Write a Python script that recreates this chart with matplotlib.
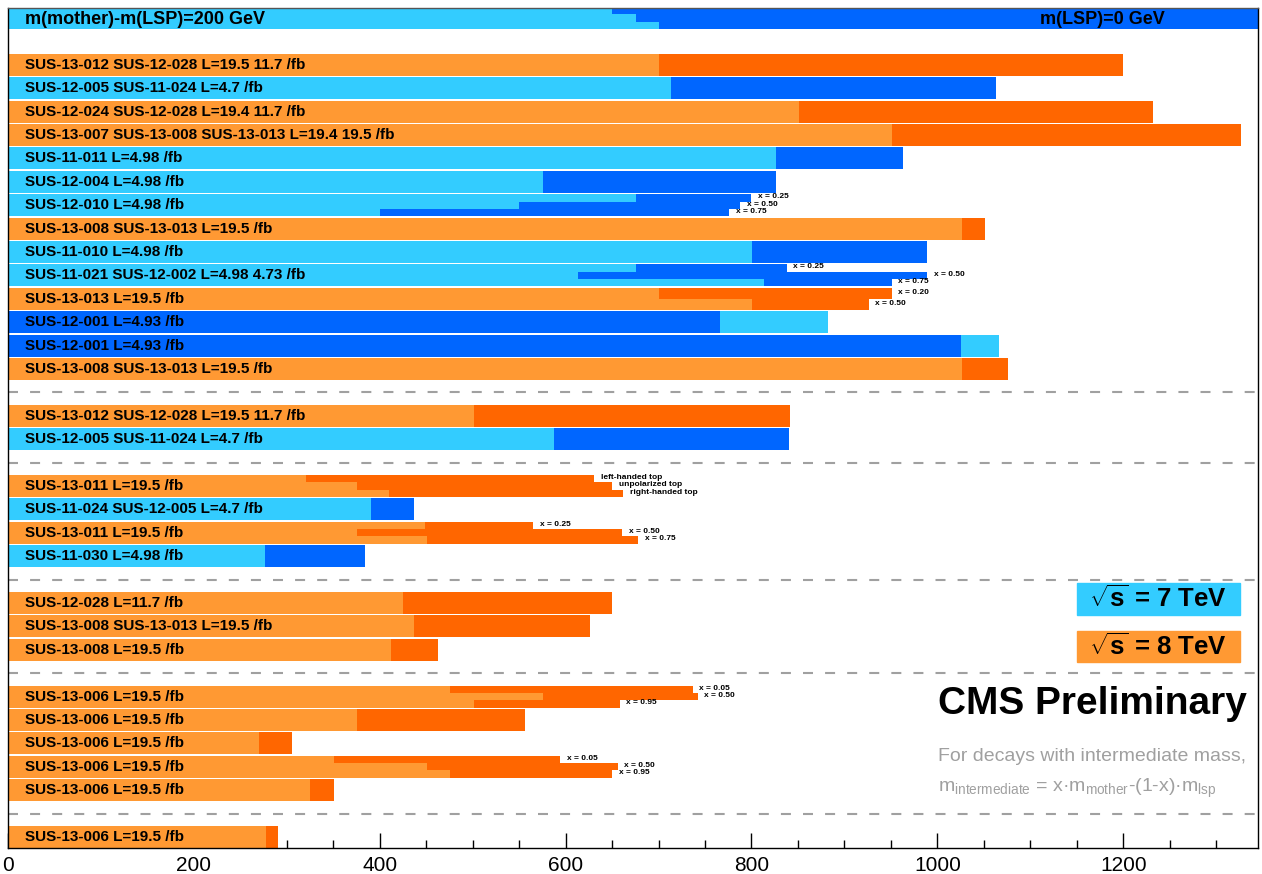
import matplotlib
matplotlib.use("Agg")
import matplotlib.pyplot as plt
from matplotlib.patches import Rectangle

plt.rcParams['font.family'] = ['Liberation Sans', 'DejaVu Sans']
plt.rcParams['mathtext.fontset'] = 'custom'
plt.rcParams['mathtext.rm'] = 'Liberation Sans'
plt.rcParams['mathtext.bf'] = 'Liberation Sans:bold'

# colours: light = m(mother)-m(LSP)=200 GeV, dark = m(LSP)=0 GeV
LIGHT = {7: '#33ccff', 8: '#ff9933'}
DARK = {7: '#0066ff', 8: '#ff6600'}

# header band (legend for light / dark shades)
header_light = [650, 676, 701]

# groups of rows: (label, sqrt(s), [(m at dm=200, m at LSP=0), ...], sub labels)
group1 = [
    ("SUS-13-012 SUS-12-028 L=19.5 11.7 /fb", 8, [(700, 1200)], []),
    ("SUS-12-005 SUS-11-024 L=4.7 /fb", 7, [(713, 1063)], []),
    ("SUS-12-024 SUS-12-028 L=19.4 11.7 /fb", 8, [(851, 1232)], []),
    ("SUS-13-007 SUS-13-008 SUS-13-013 L=19.4 19.5 /fb", 8, [(951, 1327)], []),
    ("SUS-11-011 L=4.98 /fb", 7, [(826, 963)], []),
    ("SUS-12-004 L=4.98 /fb", 7, [(576, 826)], []),
    ("SUS-12-010 L=4.98 /fb", 7, [(676, 800), (550, 788), (400, 776)],
     ["x = 0.25", "x = 0.50", "x = 0.75"]),
    ("SUS-13-008 SUS-13-013 L=19.5 /fb", 8, [(1026, 1051)], []),
    ("SUS-11-010 L=4.98 /fb", 7, [(801, 989)], []),
    ("SUS-11-021 SUS-12-002 L=4.98 4.73 /fb", 7, [(676, 838), (613, 989), (813, 951)],
     ["x = 0.25", "x = 0.50", "x = 0.75"]),
    ("SUS-13-013 L=19.5 /fb", 8, [(701, 951), (801, 926)], ["x = 0.20", "x = 0.50"]),
    ("SUS-12-001 L=4.93 /fb", 7, [(882, 766)], []),
    ("SUS-12-001 L=4.93 /fb", 7, [(1066, 1025)], []),
    ("SUS-13-008 SUS-13-013 L=19.5 /fb", 8, [(1026, 1076)], []),
]
group2 = [
    ("SUS-13-012 SUS-12-028 L=19.5 11.7 /fb", 8, [(501, 841)], []),
    ("SUS-12-005 SUS-11-024 L=4.7 /fb", 7, [(588, 840)], []),
]
group3 = [
    ("SUS-13-011 L=19.5 /fb", 8, [(321, 631), (376, 650), (410, 662)],
     ["left-handed top", "unpolarized top", "right-handed top"]),
    ("SUS-11-024 SUS-12-005 L=4.7 /fb", 7, [(391, 437)], []),
    ("SUS-13-011 L=19.5 /fb", 8, [(449, 565), (376, 661), (451, 678)],
     ["x = 0.25", "x = 0.50", "x = 0.75"]),
    ("SUS-11-030 L=4.98 /fb", 7, [(277, 384)], []),
]
group4 = [
    ("SUS-12-028 L=11.7 /fb", 8, [(425, 650)], []),
    ("SUS-13-008 SUS-13-013 L=19.5 /fb", 8, [(437, 626)], []),
    ("SUS-13-008 L=19.5 /fb", 8, [(412, 463)], []),
]
group5 = [
    ("SUS-13-006 L=19.5 /fb", 8, [(476, 737), (576, 742), (501, 658)],
     ["x = 0.05", "x = 0.50", "x = 0.95"]),
    ("SUS-13-006 L=19.5 /fb", 8, [(376, 556)], []),
    ("SUS-13-006 L=19.5 /fb", 8, [(270, 306)], []),
    ("SUS-13-006 L=19.5 /fb", 8, [(351, 594), (451, 656), (476, 650)],
     ["x = 0.05", "x = 0.50", "x = 0.95"]),
    ("SUS-13-006 L=19.5 /fb", 8, [(325, 351)], []),
]
group6 = [
    ("SUS-13-006 L=19.5 /fb", 8, [(278, 290)], []),
]
groups = [group1, group2, group3, group4, group5, group6]

xticks = [0, 200, 400, 600, 800, 1000, 1200]
XMAX = 1345

fig = plt.figure(figsize=(12.62, 8.74), dpi=100)
ax = fig.add_axes([8 / 1262, 26 / 874, 1250 / 1262, 840 / 874])

H = 0.94  # bar thickness in row units

# header band
ax.barh(0, XMAX, height=0.94, color=DARK[7], zorder=1)
n = len(header_light)
for i, v in enumerate(header_light):
    yc = -0.47 + (i + 0.5) * 0.94 / n
    ax.barh(yc, v, height=0.94 / n, color=LIGHT[7], zorder=2)
ax.text(18, 0.05, "m(mother)-m(LSP)=200 GeV", fontsize=13, fontweight='bold', va='center', zorder=5)
ax.text(1245, 0.05, "m(LSP)=0 GeV", fontsize=13, fontweight='bold', va='center', ha='right', zorder=5)

slot = 2
sep_lines = []
for gi, grp in enumerate(groups):
    for label, en, pairs, subl in grp:
        n = len(pairs)
        for i, (lt, dk) in enumerate(pairs):
            h = H / n
            yc = slot - H / 2 + (i + 0.5) * h
            items = sorted([(lt, LIGHT[en]), (dk, DARK[en])], key=lambda t: -t[0])
            for z, (v, c) in enumerate(items):
                ax.barh(yc, v, height=h, color=c, zorder=1 + z, linewidth=0)
            if subl:
                ax.text(max(lt, dk) + 7, yc - 0.05, subl[i], fontsize=6, fontweight='bold',
                        va='center', ha='left', zorder=5)
        ax.text(18, slot, label, fontsize=11, fontweight='bold', va='center', zorder=5)
        slot += 1
    if gi < len(groups) - 1:
        sep_lines.append(slot)
        slot += 1

for s in sep_lines:
    ax.axhline(s, color='#a0a0a0', lw=1.5, dashes=(4.8, 5.8), zorder=0.8)

ax.set_xlim(0, XMAX)
ax.set_ylim(slot - 0.53, -0.43)
ax.set_axisbelow(True)
ax.set_xticks(xticks)
ax.set_xticks(range(0, XMAX, 50), minor=True)
ax.set_yticks([])
ax.tick_params(axis='x', which='major', direction='in', length=11, width=1, labelsize=15, pad=6)
ax.tick_params(axis='x', which='minor', direction='in', length=5.5, width=1)
for sp in ax.spines.values():
    sp.set_linewidth(1)
ax.spines['top'].set_color('#555555')

# energy boxes
ax.add_patch(Rectangle((0.855, 0.2774), 0.1306, 0.0381, transform=ax.transAxes,
                       color=LIGHT[7], zorder=3, clip_on=False))
ax.text(0.9203, 0.2964, r"$\sqrt{\mathbf{s}}$ = 7 TeV", transform=ax.transAxes, fontsize=18.5,
        fontweight='bold', ha='center', va='center', zorder=5)
ax.add_patch(Rectangle((0.855, 0.2214), 0.1306, 0.0369, transform=ax.transAxes,
                       color=LIGHT[8], zorder=3, clip_on=False))
ax.text(0.9203, 0.2398, r"$\sqrt{\mathbf{s}}$ = 8 TeV", transform=ax.transAxes, fontsize=18.5,
        fontweight='bold', ha='center', va='center', zorder=5)

ax.text(0.7437, 0.1715, "CMS Preliminary", transform=ax.transAxes, fontsize=28,
        fontweight='bold', ha='left', va='center', zorder=5)
ax.text(0.7437, 0.1085, "For decays with intermediate mass,", transform=ax.transAxes,
        fontsize=14, color='#a0a0a0', ha='left', va='center', zorder=5)
ax.text(0.7437, 0.0715,
        r"m$_{\mathregular{intermediate}}$ = x·m$_{\mathregular{mother}}$-(1-x)·m$_{\mathregular{lsp}}$",
        transform=ax.transAxes, fontsize=14, color='#a0a0a0', ha='left', va='center', zorder=5)

fig.savefig("out.png", dpi=100)
